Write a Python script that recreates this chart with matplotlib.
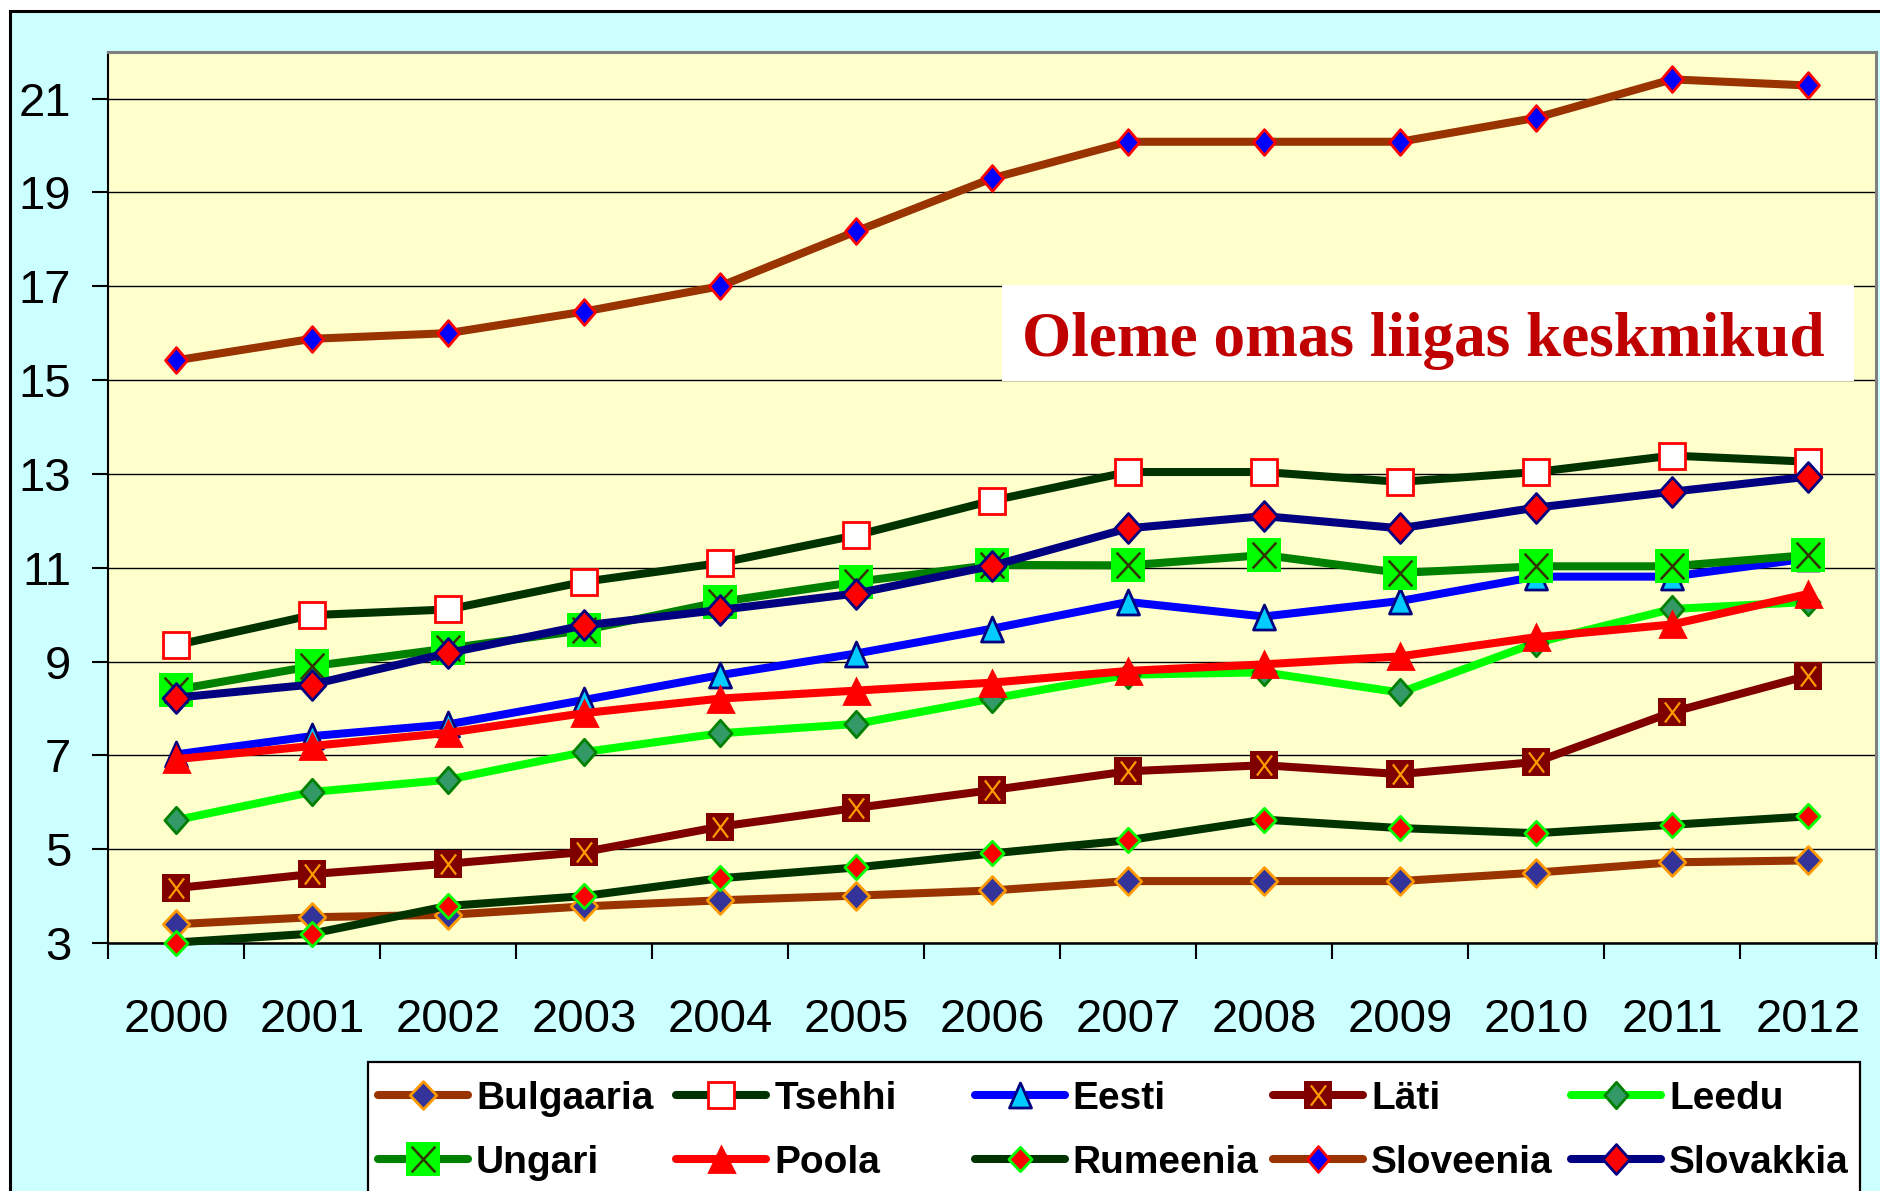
import numpy as np
import matplotlib
matplotlib.use("Agg")
import matplotlib.pyplot as plt
from matplotlib.path import Path
from matplotlib.lines import Line2D
from matplotlib.patches import Rectangle

years = ["2000", "2001", "2002", "2003", "2004", "2005", "2006",
         "2007", "2008", "2009", "2010", "2011", "2012"]

bulgaaria = [3.40, 3.55, 3.60, 3.78, 3.91, 4.01, 4.12, 4.32, 4.32, 4.32, 4.50, 4.72, 4.76]
tsehhi = [9.35, 9.99, 10.11, 10.70, 11.10, 11.69, 12.43, 13.04, 13.04, 12.83, 13.04, 13.39, 13.26]
eesti = [7.02, 7.41, 7.66, 8.18, 8.71, 9.17, 9.70, 10.27, 9.96, 10.29, 10.81, 10.81, 11.20]
lati = [4.17, 4.47, 4.69, 4.94, 5.48, 5.88, 6.26, 6.66, 6.79, 6.60, 6.86, 7.92, 8.70]
leedu = [5.62, 6.22, 6.48, 7.07, 7.47, 7.67, 8.21, 8.72, 8.77, 8.34, 9.40, 10.12, 10.27]
ungari = [8.40, 8.90, 9.28, 9.67, 10.27, 10.70, 11.06, 11.05, 11.27, 10.89, 11.03, 11.03, 11.27]
poola = [6.92, 7.20, 7.48, 7.90, 8.21, 8.38, 8.55, 8.80, 8.94, 9.11, 9.52, 9.79, 10.44]
rumeenia = [3.01, 3.20, 3.79, 4.00, 4.38, 4.61, 4.91, 5.19, 5.63, 5.45, 5.34, 5.52, 5.70]
sloveenia = [15.42, 15.88, 16.00, 16.46, 17.00, 18.17, 19.30, 20.08, 20.08, 20.08, 20.59, 21.41, 21.28]
slovakkia = [8.23, 8.51, 9.18, 9.77, 10.10, 10.45, 11.04, 11.84, 12.10, 11.84, 12.28, 12.62, 12.94]

title = "Oleme omas liigas keskmikud"

plt.rcParams['font.family'] = ['Liberation Sans', 'DejaVu Sans']

W, H = 1880, 1191


def fx(px):
    return px / W


def fy(py):
    return 1 - py / H


def diamond(r=0.9):
    return Path([(0, 1), (r, 0), (0, -1), (-r, 0), (0, 1)], closed=True)


def tri(r=0.9):
    return Path([(0, 1), (r, -1), (-r, -1), (0, 1)], closed=True)


def cross(r=0.9):
    return Path([(-r, -1), (r, 1), (-r, 1), (r, -1)],
                [Path.MOVETO, Path.LINETO, Path.MOVETO, Path.LINETO])


# name, values, line+marker style, optional overlay marker
series = [
    ("Bulgaaria", bulgaaria, dict(color="#993300", marker=diamond(0.95), ms=20, mfc="#333399", mec="#FF9900"), None),
    ("Tsehhi", tsehhi, dict(color="#003300", marker="s", ms=18.5, mfc="white", mec="#FF0000"), None),
    ("Eesti", eesti, dict(color="#0000FF", marker=tri(0.88), ms=18, mfc="#00CCFF", mec="#000080"), None),
    ("Läti", lati, dict(color="#800000", marker="s", ms=19.5, mfc="#800000", mec="#800000", mew=0),
     dict(marker=cross(0.75), ms=14.5, mec="#FF9900", mew=1.6)),
    ("Leedu", leedu, dict(color="#00FF00", marker=diamond(0.88), ms=19, mfc="#339966", mec="#008000"), None),
    ("Ungari", ungari, dict(color="#008000", marker="s", ms=24.5, mfc="#00FF00", mec="#00FF00", mew=0),
     dict(marker=cross(0.92), ms=18.5, mec="#333300", mew=1.8)),
    ("Poola", poola, dict(color="#FF0000", marker="^", ms=18, mfc="#FF0000", mec="#FF0000"), None),
    ("Rumeenia", rumeenia, dict(color="#003300", marker=diamond(0.95), ms=17.5, mfc="#FF0000", mec="#00FF00"), None),
    ("Sloveenia", sloveenia, dict(color="#993300", marker=diamond(0.85), ms=18.5, mfc="#0000FF", mec="#FF0000"), None),
    ("Slovakkia", slovakkia, dict(color="#000080", marker=diamond(0.9), ms=21.5, mfc="#FF0000", mec="#000080"), None),
]

fig = plt.figure(figsize=(18.8, 11.91), dpi=100, facecolor="white")

# outer chart area
fig.add_artist(Rectangle((fx(10), fy(1260)), 1.1, fy(11) - fy(1260), transform=fig.transFigure,
                         facecolor="#CCFFFF", edgecolor="black", lw=2.2, zorder=-10))

ax_l, ax_r, ax_t, ax_b = 108, 1876, 51.7, 943
ax = fig.add_axes([fx(ax_l), fy(ax_b), fx(ax_r) - fx(ax_l), fy(ax_t) - fy(ax_b)])
ax.set_facecolor("#FFFFCC")

x = np.arange(len(years))
for i, (name, vals, style, over) in enumerate(series):
    st = dict(style)
    st.setdefault("mew", 2)
    ax.plot(x, vals, lw=5.8, zorder=3 + i * 0.1, solid_joinstyle="round", clip_on=False, **st)
    if over:
        ax.plot(x, vals, ls="none", mfc="none", zorder=3 + i * 0.1 + 0.05, clip_on=False, **over)

ax.set_xlim(-0.5, len(years) - 0.5)
ax.set_ylim(3, 22)
ax.set_yticks(np.arange(3, 22, 2))
ax.set_xticks(x)
ax.set_xticklabels(years)
ax.set_xticks(np.arange(-0.5, len(years), 1), minor=True)
ax.grid(axis="y", color="black", lw=1.0)
ax.set_axisbelow(True)

ax.tick_params(axis="y", length=11.5, width=1.5, pad=15, labelsize=34, direction="out")
ax.tick_params(axis="x", which="major", length=0, pad=39.5, labelsize=34)
ax.tick_params(axis="x", which="minor", length=11.5, width=1.5, direction="out")

ax.spines["left"].set_color("black")
ax.spines["left"].set_linewidth(1.5)
ax.spines["bottom"].set_color("black")
ax.spines["bottom"].set_linewidth(1.8)
for s in ["top", "right"]:
    ax.spines[s].set_color("#808080")
    ax.spines[s].set_linewidth(2.2)

# title box inside the plot
aw, ah = ax_r - ax_l, ax_b - ax_t


def axx(px):
    return (px - ax_l) / aw


def axy(py):
    return (ax_b - py) / ah


ax.add_patch(Rectangle((axx(1002), axy(381)), axx(1854) - axx(1002), axy(285) - axy(381),
                       transform=ax.transAxes, facecolor="white", edgecolor="none", zorder=2.5))
ax.text(axx(1022), axy(356), title, transform=ax.transAxes, ha="left", va="baseline",
        fontsize=45.5, family="Liberation Serif", weight="bold", color="#C00000", zorder=2.6)

# legend box
fig.add_artist(Rectangle((fx(368), fy(1260)), fx(1860) - fx(368), fy(1062) - fy(1260),
                         transform=fig.transFigure, facecolor="white", edgecolor="black",
                         lw=1.6, zorder=5))
for i, (name, vals, style, over) in enumerate(series):
    row, col = i // 5, i % 5
    x0 = 378 + 298.3 * col
    yc = 1095 + 64 * row
    fig.add_artist(Line2D([fx(x0), fx(x0 + 90)], [fy(yc), fy(yc)], transform=fig.transFigure,
                          color=style["color"], lw=5.8, solid_capstyle="round", zorder=6))
    st = {k: v for k, v in style.items() if k != "color"}
    st.setdefault("mew", 2)
    fig.add_artist(Line2D([fx(x0 + 45)], [fy(yc)], transform=fig.transFigure, ls="none",
                          zorder=6.1, **st))
    if over:
        fig.add_artist(Line2D([fx(x0 + 45)], [fy(yc)], transform=fig.transFigure, ls="none",
                              mfc="none", zorder=6.2, **over))
    fig.text(fx(x0 + 98), fy(yc + 14), name, ha="left", va="baseline", fontsize=28,
             weight="bold", color="black", zorder=6.3)

fig.savefig("out.png", dpi=100)
